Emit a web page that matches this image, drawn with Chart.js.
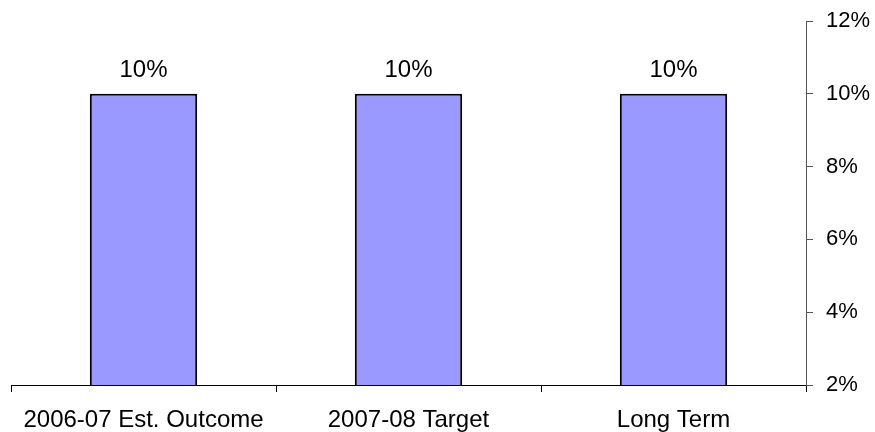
<!DOCTYPE html>
<html>
<head>
<meta charset="utf-8">
<script src="https://cdn.jsdelivr.net/npm/chart.js@4.4.0/dist/chart.umd.min.js"></script>
<style>
  html, body { margin: 0; padding: 0; background: #fff; }
  #wrap { width: 875px; height: 432px; }
</style>
</head>
<body>
<div id="wrap"><canvas id="myChart" width="875" height="432"></canvas></div>
<script>
const categories = ["2006-07 Est. Outcome", "2007-08 Target", "Long Term"];
const values = [10, 10, 10];
const yTicks = [2, 4, 6, 8, 10, 12];

const FONT = "'Liberation Sans', Arial, sans-serif";

// draws the "10%" above each bar
const barLabels = {
  id: "barLabels",
  afterDatasetsDraw(chart) {
    const ctx = chart.ctx;
    const meta = chart.getDatasetMeta(0);
    ctx.save();
    ctx.font = "24px " + FONT;
    ctx.fillStyle = "#000";
    ctx.textAlign = "center";
    ctx.textBaseline = "alphabetic";
    meta.data.forEach((bar, i) => {
      ctx.fillText(values[i] + "%", bar.x, bar.y - 17);
    });
    ctx.restore();
  }
};

new Chart(document.getElementById("myChart").getContext("2d"), {
  type: "bar",
  data: {
    labels: categories,
    datasets: [{
      data: values,
      backgroundColor: "#9999FF",
      borderColor: "#000",
      borderWidth: 2,
      borderSkipped: false,
      barPercentage: 0.81,
      categoryPercentage: 0.5
    }]
  },
  options: {
    responsive: false,
    animation: false,
    layout: { padding: { left: 11, top: 21, right: 0, bottom: 0 } },
    plugins: { legend: { display: false }, tooltip: { enabled: false } },
    scales: {
      x: {
        grid: { drawOnChartArea: false, drawTicks: true, tickLength: 7, color: "#000", offset: true },
        border: { display: true, color: "#000", width: 1 },
        ticks: { color: "#000", font: { family: FONT, size: 24 }, padding: 14, maxRotation: 0, autoSkip: false },
        afterFit(scale) {
          scale.height = 47;
          scale.paddingLeft = 0;
          scale.paddingRight = 0;
        }
      },
      y: {
        position: "right",
        min: 2,
        max: 12,
        afterBuildTicks(scale) { scale.ticks = yTicks.map(v => ({ value: v })); },
        grid: { drawOnChartArea: false, drawTicks: true, tickLength: 7, color: "#555" },
        border: { display: true, color: "#555", width: 1 },
        ticks: { color: "#000", font: { family: FONT, size: 22 }, padding: 13, callback: v => v + "%" },
        afterFit(scale) {
          scale.width = 69;
          scale.paddingTop = 0;
          scale.paddingBottom = 0;
        }
      }
    }
  },
  plugins: [barLabels]
});
</script>
</body>
</html>
